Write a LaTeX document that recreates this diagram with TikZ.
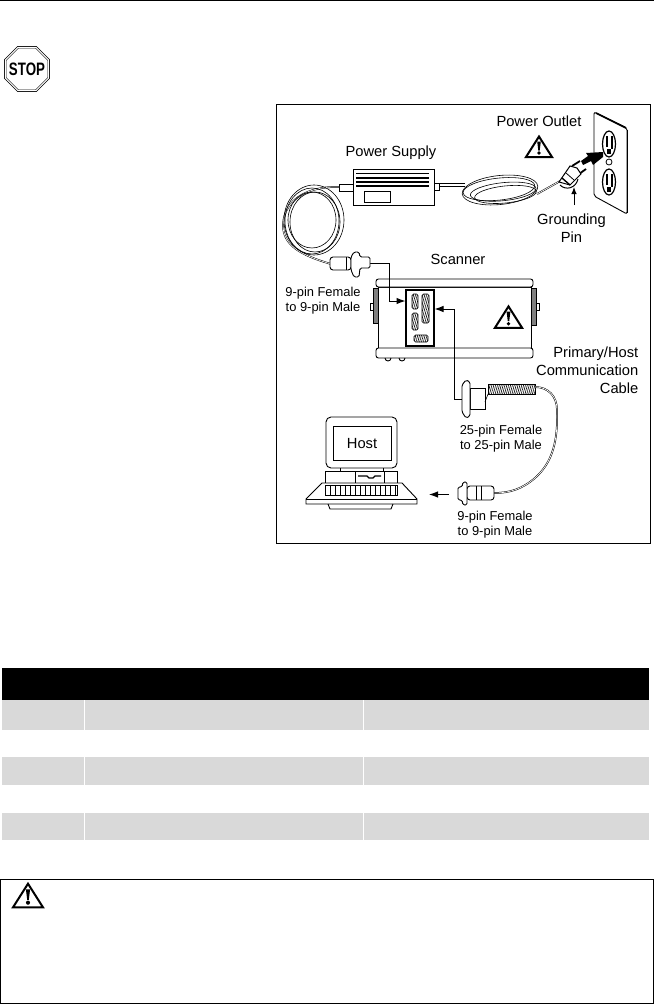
\documentclass[tikz,border=0pt]{standalone}
\usepackage{xcolor}
\usepackage{fontspec}
\setmainfont{Liberation Sans}
\usepackage{tikz}
\usetikzlibrary{arrows.meta,shapes.geometric,patterns.meta}
\definecolor{rowgray}{HTML}{D9D9D9}
\tikzset{
  lbl/.style={inner sep=0pt,align=center,font=\fontsize{14.7}{17.8}\selectfont},
  lblsmall/.style={inner sep=0pt,align=center,font=\fontsize{12.9}{15}\selectfont},
  part/.style={line width=0.9pt,fill=white},
  cable/.style={line width=0.5pt,double=white,double distance=0.7pt},
  pointer/.style={line width=1pt,-{Latex[length=9pt,width=6.5pt]}},
  row/.style={fill=rowgray},
  hatch/.style={pattern={Lines[angle=75,distance=1.8pt,line width=0.6pt]}},
  warnsign/.pic={
    \draw[line width=2pt,line join=miter,fill=white] (0,-22) -- (-13,-1.5) -- (13,-1.5) -- cycle;
    \fill (-1.8,-17) -- (1.8,-17) -- (0.7,-8) -- (-0.7,-8) -- cycle;
    \fill (0,-5.5) circle (1.8);
  }
}
\begin{document}
\begin{tikzpicture}[x=1pt,y=-1pt]
\useasboundingbox (0,0) rectangle (654,1004);
\draw[line width=1.2pt] (0,0.6) -- (654,0.6);
% stop sign
\node[regular polygon,regular polygon sides=8,minimum size=47pt,inner sep=0pt,draw,double,double distance=1pt,line width=0.7pt] (stopsign) at (27,69) {};
\node[inner sep=0pt,font=\bfseries\fontsize{18}{18}\selectfont] (stoptext) at (27,69) {\scalebox{0.74}[1]{STOP}};
% figure frame
\draw[line width=1pt] (276,104.5) rectangle (650,543);
% power supply
\draw[part] (339,184) rectangle (353,191);
\draw[part] (434,183) rectangle (439,190);
\draw[part] (353,169) rectangle (434,205);
\draw[line width=1.1pt] (356,173.5) -- (429,173.5);
\draw[line width=1.1pt] (356,178) -- (429,178);
\draw[line width=1.1pt] (356,182) -- (429,182);
\draw[line width=1.1pt] (356,186) -- (429,186);
\draw[line width=1pt] (364,191) rectangle (390,202);
\node[lbl] (supplylabel) at (391,153) {Power Supply};
% coil to the scanner
\draw[cable] (339,187) .. controls (310,186) and (284,198) .. (283,225) .. controls (283,245) and (300,255) .. (331,264);
\draw[line width=0.6pt] (314,220) ellipse [x radius=30,y radius=35];
\draw[line width=0.6pt] (312,221) ellipse [x radius=27,y radius=33];
\draw[line width=0.6pt] (315,222) ellipse [x radius=25,y radius=30];
\draw[line width=0.6pt] (312,220) ellipse [x radius=24,y radius=28];
% coil to the outlet
\draw[line width=0.8pt] (439,183.5) -- (465,183.5);
\draw[line width=0.8pt] (439,186.5) -- (465,186.5);
\draw[line width=0.6pt,rotate around={6:(500,190)}] (500,190) ellipse [x radius=38,y radius=14.5];
\draw[line width=0.6pt,rotate around={6:(500,190)}] (499,189) ellipse [x radius=36,y radius=11];
\draw[line width=0.6pt,rotate around={6:(500,190)}] (503,192) ellipse [x radius=33,y radius=9];
\draw[line width=0.6pt,rotate around={6:(500,190)}] (505,195) ellipse [x radius=31,y radius=8.5];
\draw[cable] (537,194) -- (562,180);
% plug
\draw[line width=1.8pt] (572,166) -- (580,161);
\draw[line width=1.8pt] (579,174) -- (586,169);
\filldraw[line width=1pt,fill=white] (559,182) -- (570,166) -- (577,168) -- (581,174) -- (570,185) -- cycle;
\draw[line width=1pt] (560,185) .. controls (566,191) and (576,188) .. (578,179);
\draw[line width=1.4pt] (562,178) -- (570,185);
\draw[line width=0.8pt] (566,173) -- (574,180);
% wall plate
\draw[line width=0.9pt,rounded corners=2pt,fill=white] (594,112) -- (627,128) -- (627,214) -- (594,196) -- cycle;
\draw[line width=1.6pt] (627.5,130) -- (627.5,213);
\draw[line width=1.6pt] (596,113) -- (626,128);
\draw[line width=1.2pt] (609,144) ellipse [x radius=6.5,y radius=13];
\draw[line width=1.2pt] (609,182) ellipse [x radius=6.5,y radius=13];
\draw[line width=0.8pt] (609,162) circle (3);
\fill (605.5,136) rectangle (608,147);
\fill (610.5,136) rectangle (613,149);
\fill (607,149) rectangle (611,154);
\fill (605.5,174) rectangle (608,185);
\fill (610.5,174) rectangle (613,187);
\fill (607,187) rectangle (611,192);
% big arrow into the outlet
\fill (581,161) -- (588,156) -- (586,153) -- (603,152) -- (603,157) -- (593,165) -- (591,161) -- (583,165) -- cycle;
\node[lbl] (outletlabel) at (539,121) {Power Outlet};
\pic at (539,158.5) {warnsign};
% grounding pin
\node[lbl] (pinlabel) at (571.5,228) {Grounding\\Pin};
\coordinate (pinfoot) at (574,205);
\coordinate (pintip) at (574,187);
\draw[line width=1pt,-{Latex[length=7pt,width=5.5pt]}] (pinfoot) -- (pintip);
% scanner
\node[lbl] (scannerlabel) at (458,259) {Scanner};
\draw[line width=1pt,fill=gray] (373,288) rectangle (378,323);
\draw[line width=0.7pt,fill=white] (370,303) rectangle (373,310);
\draw[line width=1pt,fill=gray] (531,288) rectangle (536,325);
\draw[line width=0.7pt,fill=white] (536,303) rectangle (539,310);
\draw[part] (378,287) rectangle (531,348);
\draw[part,rounded corners=2.5pt] (376,279) rectangle (533,287);
\draw[part,rounded corners=2.5pt] (376,348) rectangle (533,358);
\draw[line width=0.9pt] (385,358) arc (180:0:3);
\draw[line width=0.9pt] (399,358) arc (180:0:3);
\draw[line width=1.1pt,fill=white] (406,290) rectangle (434,346);
\draw[line width=0.7pt,hatch,rounded corners=1.5pt] (412,294) rectangle (418,309);
\draw[line width=0.7pt,hatch,rounded corners=1.5pt] (412,313) rectangle (418,330);
\draw[line width=0.7pt,hatch,rounded corners=1.5pt] (422,294) rectangle (429,323);
\draw[line width=0.7pt,hatch,rounded corners=1.5pt] (414,335) rectangle (428,342);
\pic[scale=1.05] at (508.5,329.5) {warnsign};
% leads to the scanner ports
\coordinate (plugA) at (370,263);
\coordinate (elbowA) at (389,263);
\coordinate (portA) at (405.5,301);
\draw[pointer] (plugA) -- (elbowA) |- (portA);
\coordinate (plugB) at (462,399);
\coordinate (elbowB) at (454,399);
\coordinate (portB) at (434.5,309);
\draw[pointer] (plugB) -- (elbowB) |- (portB);
% 9-pin connector at the supply
\draw[part,rounded corners=3pt] (330,257) rectangle (351,270);
\draw[line width=0.8pt] (346,257) -- (346,270);
\draw[part,rounded corners=1.5pt] (354,252) -- (359,252) -- (360,257) -- (370,257) -- (370,268) -- (360,268) -- (359,277) -- (354,277) -- (351,270) -- (351,257) -- cycle;
\node[lblsmall] (leftlabel) at (323,300.5) {9-pin Female\\to 9-pin Male};
% 25-pin connector and host cable
\draw[part] (470,388) rectangle (485,409);
\draw[part,rounded corners=1.5pt] (462,385) -- (466,380) -- (470,382) -- (470,416) -- (466,418) -- (462,412) -- cycle;
\draw[line width=0.6pt] (485,402) -- (488,394);
\draw[line width=0.6pt] (488,384) -- (488,394) -- (535,394) -- (535,384) -- cycle;
\fill[hatch] (488,384) rectangle (535,394);
\draw[cable] (535,387) .. controls (548,387) and (557,396) .. (557,410) .. controls (558,440) and (553,462) .. (535,478) .. controls (522,489) and (510,493) .. (494,493);
\node[lblsmall] (midlabel) at (501,438.5) {25-pin Female\\to 25-pin Male};
\node[lbl,align=right,anchor=east] (cablelabel) at (638.5,370) {Primary/Host\\Communication\\Cable};
% 9-pin connector at the host
\draw[part,rounded corners=3pt] (467,486) rectangle (494,500);
\draw[line width=0.8pt] (476,486) -- (476,500);
\draw[line width=0.8pt] (481,486) -- (481,500);
\draw[part,rounded corners=1.5pt] (458,487) -- (462,487) -- (463,482) -- (467,482) -- (467,505) -- (463,505) -- (462,500) -- (458,500) -- cycle;
\node[lblsmall] (lowerlabel) at (495,524.5) {9-pin Female\\to 9-pin Male};
% host computer
\draw[part,rounded corners=5pt] (326,417) rectangle (397,468);
\draw[line width=0.9pt] (333,426) rectangle (391,460);
\node[inner sep=0pt,font=\fontsize{14.7}{17}\selectfont] (hostlabel) at (362,443.5) {Host};
\draw[line width=0.9pt] (340,468) -- (340,471);
\draw[line width=0.9pt] (383,468) -- (383,471);
\draw[line width=0.9pt] (325,471) rectangle (397,483);
\draw[line width=0.9pt] (355,471) -- (355,483);
\draw[line width=0.9pt] (384,471) -- (384,483);
\draw[line width=1.3pt] (358,476) -- (367,476) -- (369,478) -- (373,478) -- (375,476) -- (381,476);
\draw[part] (322,483) -- (402,483) -- (417,499) -- (417,504) -- (306,504) -- (306,499) -- cycle;
\draw[line width=0.7pt] (306,499) -- (417,499);
\draw[line width=0.9pt] (328,504) -- (330,509) -- (391,509) -- (393,504);
\draw[line width=0.45pt,xstep=5,ystep=3.2] (325,485.5) grid (397,495);
\draw[line width=0.7pt] (325,485.5) rectangle (397,495);
\coordinate (plugC) at (449,494.5);
\coordinate (hostin) at (429,494.5);
\draw[pointer] (plugC) -- (hostin);
% table
\fill (2,668) rectangle (649,700);
\fill[row] (2,700) rectangle (649,730);
\fill[row] (2,757) rectangle (649,785);
\fill[row] (2,813) rectangle (649,840);
\draw[white,line width=1pt] (84,700) -- (84,730);
\draw[white,line width=1pt] (363,700) -- (363,730);
\draw[white,line width=1pt] (84,757) -- (84,785);
\draw[white,line width=1pt] (363,757) -- (363,785);
\draw[white,line width=1pt] (84,813) -- (84,840);
\draw[white,line width=1pt] (363,813) -- (363,840);
% warning box
\draw[line width=1pt] (0.5,879.5) rectangle (653.5,1003.5);
\pic[scale=1.15] at (28,909) {warnsign};
\end{tikzpicture}
\end{document}
